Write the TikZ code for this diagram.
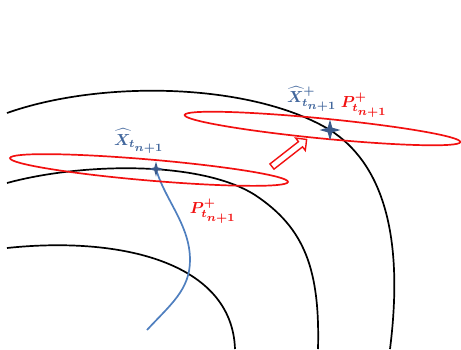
\documentclass[tikz,border=0pt]{standalone}
\usepackage{bm}
\usetikzlibrary{shapes.geometric,shapes.arrows}
\definecolor{curveblue}{HTML}{4F7FBF}
\definecolor{starblue}{HTML}{3B5A8A}
\definecolor{txtblue}{HTML}{41669C}
\definecolor{myred}{HTML}{F21010}
\newcommand{\biglbl}[1]{\scalebox{1.6}{$\bm{#1}$}}
\newcommand{\tsub}{t_{\scriptstyle n+1}}
\tikzset{
  level/.style={line width=1.7pt, black},
  ell/.style={ellipse, draw=myred, line width=1.7pt, inner sep=0pt},
  starmark/.style={star, star points=4, star point ratio=3.2, fill=starblue, inner sep=0pt},
  lbl/.style={inner sep=0pt},
}
\begin{document}
\begin{tikzpicture}[x=1pt,y=-1pt]
\useasboundingbox (0,0) rectangle (461,349);
% level curves
\draw[level] (7,113) .. controls (100,80) and (250,82) .. (330,130) .. controls (380,162) and (405,230) .. (390,349);
\draw[level] (7,183) .. controls (80,163) and (200,160) .. (255,195) .. controls (305,228) and (320,270) .. (318,349);
\draw[level] (7,248) .. controls (120,236) and (232,262) .. (235,349);
% trajectory
\draw[curveblue, line width=1.7pt] (156,169) .. controls (165,200) and (190,225) .. (190,260) .. controls (190,290) and (170,305) .. (147,330);
% ellipses
\node[ell, minimum width=279pt, minimum height=21pt, rotate=-4.9] (e1) at (149,170) {};
\node[ell, minimum width=277pt, minimum height=20pt, rotate=-5.6] (e2) at (322.5,128.5) {};
% stars
\node[starmark, minimum size=15pt] (s1) at (156,169) {};
\node[starmark, minimum size=21pt] (s2) at (330,130) {};
% arrow
\node[single arrow, draw=myred, fill=white, line width=1.4pt, minimum height=44pt, inner sep=2.6pt, single arrow head extend=4.5pt, rotate=38] (ar) at (288,154) {};
% labels
\node[lbl, txtblue] (l1) at (139,141) {\biglbl{\widehat{X}_{\tsub}}};
\node[lbl, txtblue] (l2) at (312,99) {\biglbl{\widehat{X}^{+}_{\tsub}}};
\node[lbl, myred] (l3) at (364,105) {\biglbl{P^{+}_{\tsub}}};
\node[lbl, myred] (l4) at (213,211) {\biglbl{P^{+}_{\tsub}}};
\end{tikzpicture}
\end{document}
